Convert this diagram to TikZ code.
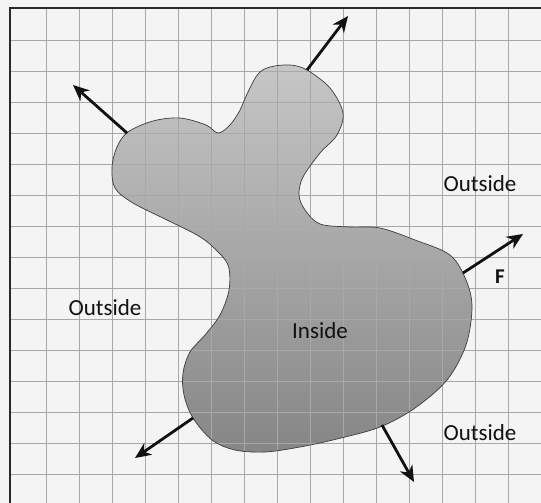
\documentclass[tikz,border=0pt]{standalone}
\usepackage{fontspec}
\setmainfont{Carlito}
\usetikzlibrary{arrows.meta}
\definecolor{cpaper}{HTML}{F4F4F4}
\definecolor{cgrid}{HTML}{A8A8A8}
\definecolor{cframe}{HTML}{2A2A2A}
\definecolor{cblobtop}{HTML}{C6C6C6}
\definecolor{cblobbot}{HTML}{868686}
\definecolor{cedge}{HTML}{3C3C3C}
\definecolor{cdark}{HTML}{111111}

\begin{document}
\begin{tikzpicture}[x=1pt,y=-1pt,
  gridline/.style={draw=cgrid, line width=0.6pt},
  region/.style={font=\fontsize{23}{26}\selectfont, text=cdark, inner sep=0},
  force/.style={-{Stealth[length=16pt,width=14pt,inset=5pt]}, line width=2.8pt, draw=cdark}]

\useasboundingbox (0,0) rectangle (541,503);
\fill[cpaper] (0,0) rectangle (541,503);

% body, shaded light at the top, dark at the bottom
\shade[top color=cblobtop, bottom color=cblobbot]
  plot[smooth cycle, tension=0.55] coordinates {
  (270,67) (290,65) (307,70) (330,88) (343,113) (337,135) (320,153) (303,177)
  (299,195) (305,210) (320,224) (350,227) (380,228) (415,240) (450,255) (466,280)
  (472,307) (466,345) (447,380) (415,408) (380,427) (337,439) (300,447) (265,452)
  (235,450) (212,440) (193,418) (184,395) (183,373) (190,352) (205,335) (220,315)
  (229,290) (228,265) (213,247) (197,235) (167,220) (133,203) (115,188) (112,167)
  (117,147) (128,132) (153,121) (180,118) (206,125) (218,133) (229,126) (239,112)
  (248,92) (258,74)};

% grid
\foreach \gx in {0,...,14} \draw[gridline] (46+33*\gx,8) -- (46+33*\gx,503);
\foreach \gy in {0,...,14} \draw[gridline] (10,40+31*\gy) -- (541,40+31*\gy);

\draw[cedge, line width=0.7pt]
  plot[smooth cycle, tension=0.55] coordinates {
  (270,67) (290,65) (307,70) (330,88) (343,113) (337,135) (320,153) (303,177)
  (299,195) (305,210) (320,224) (350,227) (380,228) (415,240) (450,255) (466,280)
  (472,307) (466,345) (447,380) (415,408) (380,427) (337,439) (300,447) (265,452)
  (235,450) (212,440) (193,418) (184,395) (183,373) (190,352) (205,335) (220,315)
  (229,290) (228,265) (213,247) (197,235) (167,220) (133,203) (115,188) (112,167)
  (117,147) (128,132) (153,121) (180,118) (206,125) (218,133) (229,126) (239,112)
  (248,92) (258,74)};

% frame
\draw[cframe, line width=1.6pt] (10,503) -- (10,8) -- (541,8);

% arrow roots on the boundary and their tips
\coordinate (leftroot) at (127,133);
\coordinate (lefttip) at (73,85);
\coordinate (toproot) at (307,70);
\coordinate (toptip) at (348,16);
\coordinate (froot) at (463,273);
\coordinate (ftip) at (523,234);
\coordinate (blroot) at (193,418);
\coordinate (bltip) at (135,458);
\coordinate (broot) at (382,425);
\coordinate (btip) at (414,482);

\draw[force] (leftroot) -- (lefttip);
\draw[force] (toproot) -- (toptip);
\draw[force] (froot) -- (ftip);
\draw[force] (blroot) -- (bltip);
\draw[force] (broot) -- (btip);

\node[region] (outur) at (480,184) {Outside};
\node[region] (outl) at (105,308) {Outside};
\node[region] (outlr) at (480,433) {Outside};
\node[region] (inside) at (320,331) {Inside};
\node[region, font=\fontsize{21}{24}\selectfont\bfseries] (flabel) at (500,277) {F};
\end{tikzpicture}
\end{document}
